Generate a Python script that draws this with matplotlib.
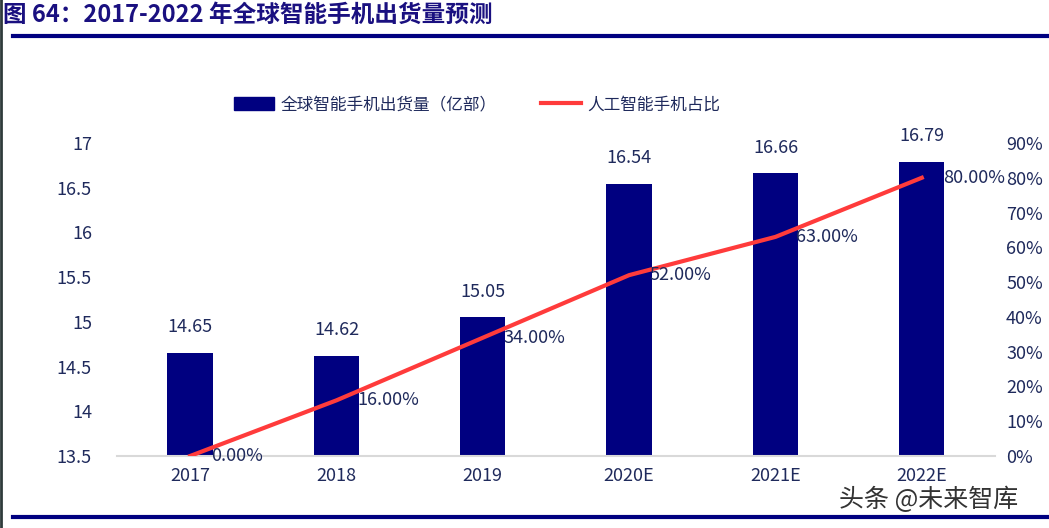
import matplotlib.pyplot as plt
from matplotlib.lines import Line2D
from matplotlib.patches import Patch

plt.rcParams['font.family'] = ['Noto Sans CJK SC', 'DejaVu Sans']

years = ["2017", "2018", "2019", "2020E", "2021E", "2022E"]
shipments = [14.65, 14.62, 15.05, 16.54, 16.66, 16.79]
ai_share = [0.0, 16.0, 34.0, 52.0, 63.0, 80.0]

NAVY = "#000080"
TEXT = "#1f2a5c"
RED = "#ff3b3b"

fig = plt.figure(figsize=(10.49, 5.28), dpi=100)
fig.patch.set_facecolor("white")

ax = fig.add_axes([0.1115, 0.1364, 0.837, 0.5928])
x = range(len(years))
bars = ax.bar(x, shipments, width=0.31, color=NAVY, bottom=0, zorder=2)
ax.set_ylim(13.5, 17)
ax.set_xlim(-0.5, len(years) - 0.5)
ax.set_yticks([13.5, 14, 14.5, 15, 15.5, 16, 16.5, 17])
ax.set_yticklabels(["13.5", "14", "14.5", "15", "15.5", "16", "16.5", "17"])
ax.set_xticks(list(x))
ax.set_xticklabels(years)
for s in ["top", "right", "left"]:
    ax.spines[s].set_visible(False)
ax.spines["bottom"].set_color("#d9d9d9")
ax.spines["bottom"].set_linewidth(1.5)
ax.tick_params(axis="both", length=0, labelsize=13, colors=TEXT)
ax.tick_params(axis="y", pad=18)
ax.tick_params(axis="x", pad=8)

for i, v in enumerate(shipments):
    ax.annotate(f"{v:.2f}", (i, v), xytext=(0, 12), textcoords="offset points",
                ha="center", va="bottom", fontsize=13, color=TEXT)

ax2 = ax.twinx()
ax2.plot(list(x), ai_share, color=RED, linewidth=3, zorder=3)
ax2.set_ylim(0, 90)
ax2.set_yticks(range(0, 91, 10))
ax2.set_yticklabels([f"{t}%" for t in range(0, 91, 10)])
for s in ["top", "right", "left", "bottom"]:
    ax2.spines[s].set_visible(False)
ax2.tick_params(axis="y", length=0, labelsize=13, colors=TEXT, pad=8)

for i, v in enumerate(ai_share):
    ax2.annotate(f"{v:.2f}%", (i, v), xytext=(15, 0), textcoords="offset points",
                 ha="left", va="center", fontsize=13, color=TEXT)

handles = [Patch(facecolor=NAVY, edgecolor=NAVY),
           Line2D([0], [0], color=RED, linewidth=3)]
fig.legend(handles, ["全球智能手机出货量（亿部）", "人工智能手机占比"],
           loc="center", bbox_to_anchor=(0.455, 0.801), ncol=2, frameon=False,
           fontsize=12, labelcolor=TEXT, handlelength=2.4, handleheight=0.8,
           columnspacing=2.6, handletextpad=0.4)

# title and frame decorations
fig.text(0.003, 0.972, "图 64：2017-2022 年全球智能手机出货量预测", ha="left", va="center",
         fontsize=17, fontweight="bold", color="#1a1080")
fig.add_artist(Line2D([0.012, 1.0], [0.932, 0.932], color=NAVY, linewidth=3))
fig.add_artist(Line2D([0.012, 1.0], [0.021, 0.021], color=NAVY, linewidth=3))
fig.add_artist(Line2D([0.001, 0.001], [0.0, 1.0], color="#2f3b3b", linewidth=2))
fig.text(0.80, 0.054, "头条 @未来智库", ha="left", va="center",
         fontsize=18, color="#333333")

fig.savefig("out.png", dpi=100, facecolor="white")
